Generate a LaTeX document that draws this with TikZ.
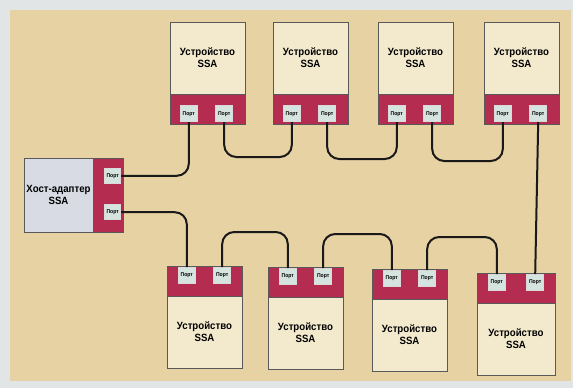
\documentclass[tikz,border=0pt]{standalone}
\usepackage{fontspec}
\setmainfont{Liberation Sans}[FakeStretch=0.92]
\usetikzlibrary{positioning}
\definecolor{paper}{RGB}{226,229,229}
\definecolor{bgtan}{RGB}{231,210,164}
\definecolor{devcream}{RGB}{243,234,206}
\definecolor{bandred}{RGB}{180,45,80}
\definecolor{portfill}{RGB}{214,228,224}
\definecolor{hostfill}{RGB}{216,219,228}
\begin{document}
\begin{tikzpicture}[x=1pt,y=-1pt,line width=0.6pt,
 dev/.style={draw=black!65,fill=devcream,minimum width=75pt,minimum height=72pt,inner sep=0pt,outer sep=0pt,align=center,font=\fontsize{10.5}{12}\selectfont\bfseries},
 band/.style={draw=black!65,fill=bandred,minimum width=75pt,minimum height=30pt,inner sep=0pt,outer sep=0pt},
 port/.style={draw=black!15,fill=portfill,minimum width=17pt,minimum height=16pt,inner sep=0pt,font=\fontsize{5.5}{5.5}\selectfont\bfseries},
 wire/.style={line width=2pt,draw=black!90,rounded corners=12pt}]
\fill[paper] (0,0) rectangle (573,388);
\fill[bgtan] (10,10) rectangle (571,381);
% host adapter
\node[dev,fill=hostfill,minimum width=69pt,minimum height=74pt,anchor=north west] (host) at (24,158) {Хост-адаптер\\SSA};
\node[band,minimum width=30pt,minimum height=74pt,right=0pt of host] (hostr) {};
\node[port,minimum width=16pt,minimum height=15pt,anchor=north east] (hp1) at ([xshift=-2pt,yshift=-10pt]hostr.north east) {Порт};
\node[port,minimum width=16pt,minimum height=15pt,anchor=south east] (hp2) at ([xshift=-2pt,yshift=12pt]hostr.south east) {Порт};
% upper row
\node[dev,anchor=north west] (t1) at (170,22) {Устройство\\SSA};
\node[band,below=0pt of t1] (t1r) {};
\node[port,anchor=south west] (t1a) at ([xshift=10pt,yshift=2pt]t1r.south west) {Порт};
\node[port,anchor=south east] (t1b) at ([xshift=-12pt,yshift=2pt]t1r.south east) {Порт};
\node[dev,anchor=north west] (t2) at (273,22) {Устройство\\SSA};
\node[band,below=0pt of t2] (t2r) {};
\node[port,anchor=south west] (t2a) at ([xshift=10pt,yshift=2pt]t2r.south west) {Порт};
\node[port,anchor=south east] (t2b) at ([xshift=-12pt,yshift=2pt]t2r.south east) {Порт};
\node[dev,anchor=north west] (t3) at (378,22) {Устройство\\SSA};
\node[band,below=0pt of t3] (t3r) {};
\node[port,anchor=south west] (t3a) at ([xshift=10pt,yshift=2pt]t3r.south west) {Порт};
\node[port,anchor=south east] (t3b) at ([xshift=-12pt,yshift=2pt]t3r.south east) {Порт};
\node[dev,anchor=north west] (t4) at (484,22) {Устройство\\SSA};
\node[band,below=0pt of t4] (t4r) {};
\node[port,anchor=south west] (t4a) at ([xshift=10pt,yshift=2pt]t4r.south west) {Порт};
\node[port,anchor=south east] (t4b) at ([xshift=-12pt,yshift=2pt]t4r.south east) {Порт};
% lower row
\node[band,anchor=north west] (b1r) at (167,266) {};
\node[dev,below=0pt of b1r] (b1) {Устройство\\SSA};
\node[port,anchor=north west] (b1a) at ([xshift=11pt,yshift=-1pt]b1r.north west) {Порт};
\node[port,anchor=north east] (b1b) at ([xshift=-11pt,yshift=-1pt]b1r.north east) {Порт};
\node[band,anchor=north west] (b2r) at (268,267) {};
\node[dev,below=0pt of b2r] (b2) {Устройство\\SSA};
\node[port,anchor=north west] (b2a) at ([xshift=11pt,yshift=-1pt]b2r.north west) {Порт};
\node[port,anchor=north east] (b2b) at ([xshift=-11pt,yshift=-1pt]b2r.north east) {Порт};
\node[band,anchor=north west] (b3r) at (372,269) {};
\node[dev,below=0pt of b3r] (b3) {Устройство\\SSA};
\node[port,anchor=north west] (b3a) at ([xshift=11pt,yshift=-1pt]b3r.north west) {Порт};
\node[port,anchor=north east] (b3b) at ([xshift=-11pt,yshift=-1pt]b3r.north east) {Порт};
\node[band,minimum width=78pt,anchor=north west] (b4r) at (477,273) {};
\node[dev,minimum width=78pt,below=0pt of b4r] (b4) {Устройство\\SSA};
\node[port,anchor=north west] (b4a) at ([xshift=11pt,yshift=-1pt]b4r.north west) {Порт};
\node[port,anchor=north east] (b4b) at ([xshift=-11pt,yshift=-1pt]b4r.north east) {Порт};
% cables
\draw[wire] (hp1.east) -| (t1a.south);
\draw[wire] (t1b.south) -- ++(0,35) -| (t2a.south);
\draw[wire] (t2b.south) -- ++(0,37) -| (t3a.south);
\draw[wire] (t3b.south) -- ++(0,39) -| (t4a.south);
\draw[wire] (t4b.south) -- (b4b.north);
\draw[wire] (hp2.east) -| (b1a.north);
\draw[wire] (b1b.north) -- ++(0,-35) -| (b2a.north);
\draw[wire] (b2b.north) -- ++(0,-34) -| (b3a.north);
\draw[wire] (b3b.north) -- ++(0,-33) -| (b4a.north);
\end{tikzpicture}
\end{document}
